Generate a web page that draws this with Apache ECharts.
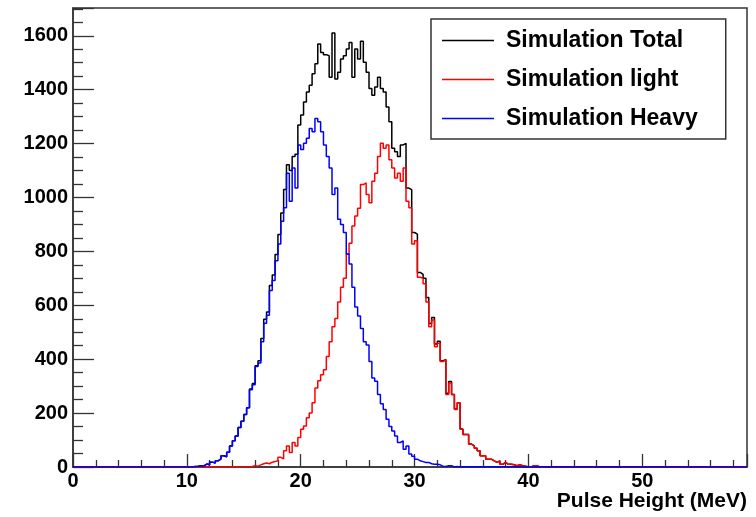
<!DOCTYPE html>
<html>
<head>
<meta charset="utf-8">
<script src="https://cdn.jsdelivr.net/npm/echarts@6/dist/echarts.min.js"></script>
<style>html,body{margin:0;padding:0;background:#fff;}#c{width:756px;height:517px;}</style>
</head>
<body>
<div id="c"></div>
<script>
// Histogram bin settings (MeV)
const binWidth = 0.25;
const totalStart = 10.5;
const lightStart = 15.5;
const heavyStart = 10.5;
const xMin = 0, xMax = 59.2;
const yMin = 0, yMax = 1703;
const xTicks = [0, 10, 20, 30, 40, 50];
const yTicks = [0, 200, 400, 600, 800, 1000, 1200, 1400, 1600];
const seriesNames = ['Simulation Total', 'Simulation light', 'Simulation Heavy'];
const seriesColors = ['#000000', '#ff0000', '#0000ff'];
const xTitle = 'Pulse Height (MeV)';

// Counts per bin
const total = [
  2,3,5,4,11,8,18,15,23,30,42,38,55,78,97,115,147,170,195,220,289,310,376,394,477,548,575,673,712,788,863,942,
  1030,1121,1100,1152,1160,1269,1306,1354,1391,1416,1459,1496,1569,1538,1530,1526,1446,1610,1440,1465,1514,1526,1551,1575,1446,1551,1514,1580,1502,1465,1404,1379,1410,1446,1404,1391,1336,1281,1183,1170,1152,1195,1201,1035,1029,870,864,722,715,700,
  629,532,555,456,467,394,399,274,317,269,215,238,141,
  121,121,85,78,70,60,42,42,29,29,23,17,23,10,17,10,10,8,5,8,5,3,0,0,5,5,0
];
const light = [
  2,5,3,8,12,15,12,18,20,23,36,30,60,78,54,91,78,109,140,152,183,200,238,293,320,342,361,410,465,520,551,612,667,700,790,830,894,931,960,1048,1054,1011,980,1060,1090,1152,1201,1183,1195,1140,1109,1072,1090,1060,1109,986,962,827,839,704,700,680,612,520,545,446,459,391,397,269,312,269,213,238,140,
  121,121,85,78,70,60,42,42,29,29,23,17,23,10,17,10,10,8,5,8,5,3,0,0,5,5,0
];
const heavy = [
  2,3,5,4,11,8,18,15,23,30,42,38,55,78,97,115,147,170,195,220,287,305,373,386,465,533,563,655,692,765,827,912,962,1090,986,1109,1035,1195,1178,1201,1220,1256,1244,1293,1281,1244,1195,1152,1109,1011,1035,919,900,870,790,753,667,594,560,514,465,453,391,330,318,269,235,213,177,150,134,115,91,97,66,78,48,40,29,23,20,17,17,12,10,10,8,3,2,5,5,0,2,0,1
];

function toSteps(start, arr) {
  const pts = [[xMin, 0], [start, 0]];
  arr.forEach((v, i) => pts.push([start + i * binWidth, v]));
  pts.push([start + arr.length * binWidth, 0]);
  pts.push([xMax, 0]);
  return pts;
}

const FONT = '"Liberation Sans", Arial, Helvetica, sans-serif';
const AX = '#333';

const chart = echarts.init(document.getElementById('c'), null, {renderer: 'canvas'});
function mkSeries(name, start, arr, color) {
  return {
    name: name, type: 'line', step: 'end', data: toSteps(start, arr),
    symbol: 'none', showSymbol: false, animation: false,
    lineStyle: {color: color, width: 1.5}, itemStyle: {color: color},
    emphasis: {disabled: true}
  };
}
chart.setOption({
  backgroundColor: '#fff',
  animation: false,
  grid: {left: 73, right: 9, top: 8, bottom: 50, show: true, borderColor: AX, borderWidth: 1.5, backgroundColor: 'transparent'},
  legend: {
    orient: 'vertical', left: 431, top: 19,
    data: seriesNames.map((n, i) => ({name: n, icon: 'rect', itemStyle: {color: seriesColors[i]}})),
    itemWidth: 52, itemHeight: 1.3, itemGap: 14,
    padding: [9, 28, 8, 11],
    backgroundColor: '#fff', borderColor: AX, borderWidth: 1.5,
    textStyle: {fontFamily: FONT, fontWeight: 'bold', fontSize: 23, lineHeight: 25, color: '#000', padding: [0, 0, 0, 7]},
    selectedMode: false
  },
  xAxis: {
    type: 'value', min: xMin, max: xMax, interval: 10,
    name: xTitle, nameLocation: 'end',
    nameTextStyle: {fontFamily: FONT, fontWeight: 'bold', fontSize: 21, color: '#000', align: 'right', verticalAlign: 'top', padding: [24, 0, 0, 0]},
    nameGap: 0,
    axisLine: {show: true, onZero: false, lineStyle: {color: AX, width: 1.5}},
    axisTick: {show: true, inside: true, length: 13, lineStyle: {color: AX, width: 1.3}},
    minorTick: {show: true, splitNumber: 5, length: 7, lineStyle: {color: AX, width: 1.3}},
    splitLine: {show: false},
    axisLabel: {fontFamily: FONT, fontWeight: 'bold', fontSize: 20, color: '#000', margin: 4,
      formatter: v => (xTicks.indexOf(v) >= 0 ? String(v) : '')}
  },
  yAxis: {
    type: 'value', min: yMin, max: yMax, interval: 200,
    axisLine: {show: true, lineStyle: {color: AX, width: 1.5}},
    axisTick: {show: true, inside: true, length: 21, lineStyle: {color: AX, width: 1.3}},
    minorTick: {show: true, splitNumber: 4, length: 10, lineStyle: {color: AX, width: 1.3}},
    splitLine: {show: false},
    axisLabel: {fontFamily: FONT, fontWeight: 'bold', fontSize: 20, color: '#000', margin: 5,
      formatter: v => (yTicks.indexOf(v) >= 0 ? String(v) : '')}
  },
  series: [
    mkSeries(seriesNames[0], totalStart, total, seriesColors[0]),
    mkSeries(seriesNames[1], lightStart, light, seriesColors[1]),
    mkSeries(seriesNames[2], heavyStart, heavy, seriesColors[2])
  ]
});
</script>
</body>
</html>
